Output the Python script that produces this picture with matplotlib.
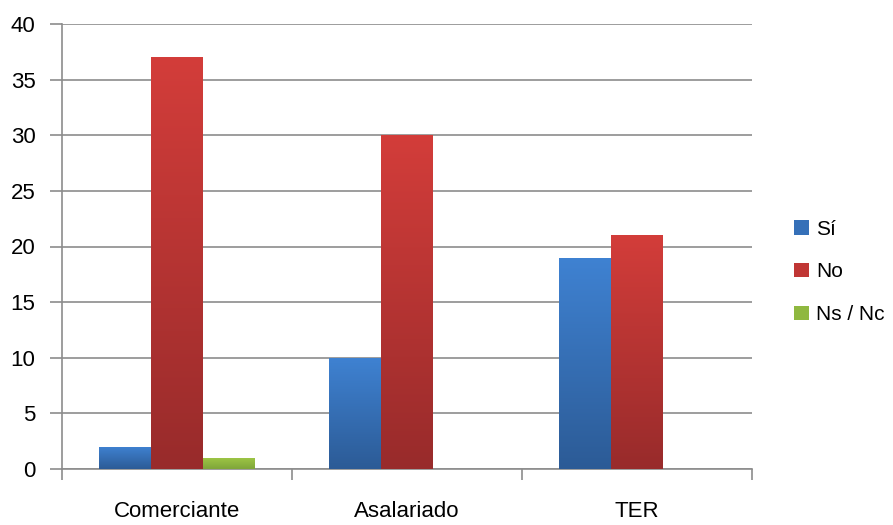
import numpy as np
import matplotlib
matplotlib.use("Agg")
import matplotlib.pyplot as plt
from matplotlib.colors import LinearSegmentedColormap
from matplotlib.patches import Patch

categories = ["Comerciante", "Asalariado", "TER"]
series_names = ["Sí", "No", "Ns / Nc"]
si_values = [2, 10, 19]
no_values = [37, 30, 21]
nsnc_values = [1, 0, 0]
y_ticks = [0, 5, 10, 15, 20, 25, 30, 35, 40]

# (top colour, bottom colour) for the gradient fill
gradients = [("#3f82d2", "#2c5b96"), ("#d33d3a", "#982b2b"), ("#9fc846", "#7fa53a")]

plt.rcParams["font.family"] = ["Liberation Sans Narrow", "Liberation Sans", "DejaVu Sans"]

fig = plt.figure(figsize=(8.93, 5.25), dpi=100)
ax = fig.add_axes([62 / 893, 1 - 469 / 525, 690 / 893, 445 / 525])

bar_w = 0.224
offsets = [-0.226, 0.0, 0.224]
x = np.arange(len(categories)) + 0.5
grad = np.linspace(0, 1, 256).reshape(-1, 1)

for vals, off, (top, bot) in zip([si_values, no_values, nsnc_values], offsets, gradients):
    cmap = LinearSegmentedColormap.from_list("g", [bot, top])
    bars = ax.bar(x + off, vals, bar_w, color="none", edgecolor="none", zorder=3)
    for b, v in zip(bars, vals):
        if v <= 0:
            continue
        x0 = b.get_x()
        im = ax.imshow(grad, extent=[x0, x0 + bar_w, 0, v], origin="lower",
                       cmap=cmap, aspect="auto", zorder=3)
        im.set_clip_path(b)

ax.set_xlim(0, 3)
ax.set_ylim(0, 40)
ax.set_yticks(y_ticks)
ax.set_yticklabels([str(t) for t in y_ticks], fontsize=16)
ax.yaxis.grid(True, color="#8c8c8c", linewidth=1.2, zorder=0)
ax.tick_params(axis="y", length=9, color="#8c8c8c", width=1.2, pad=10)

ax.set_xticks([0, 1, 2, 3])
ax.set_xticklabels([])
ax.tick_params(axis="x", length=8, color="#8c8c8c", width=1.2, direction="out")
for xc, name in zip(x, categories):
    ax.text(xc, -3.8, name, ha="center", va="center", fontsize=16)

for s in ["top", "right"]:
    ax.spines[s].set_visible(False)
for s in ["left", "bottom"]:
    ax.spines[s].set_color("#8c8c8c")
    ax.spines[s].set_linewidth(1.2)

handles = [Patch(facecolor=c, edgecolor="none") for c in ["#3570b8", "#c03634", "#8fb840"]]
fig.legend(handles, series_names, loc="center left", bbox_to_anchor=(794 / 893, 1 - 272 / 525),
           frameon=False, fontsize=15, handlelength=0.7, handleheight=0.7,
           handletextpad=0.35, labelspacing=1.15, borderaxespad=0, borderpad=0)

fig.savefig("out.png", dpi=100)
